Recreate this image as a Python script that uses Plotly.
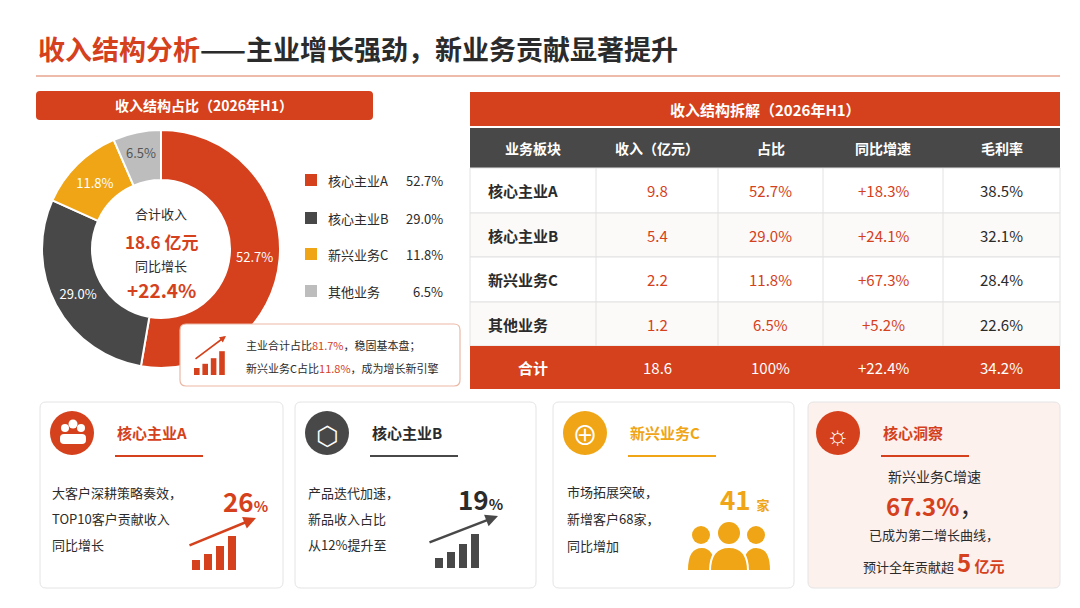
import plotly.graph_objects as go

FONT = "Noto Sans CJK SC"
RED = "#D4411C"
DARK = "#484848"
YEL = "#EFA516"
LGRAY = "#BDBDBD"
TXT = "#2b2b2b"

# ---- data ----
segments = ["核心主业A", "核心主业B", "新兴业务C", "其他业务"]
share = [52.7, 29.0, 11.8, 6.5]
seg_colors = [RED, DARK, YEL, LGRAY]
total_growth = "+22.4%"

col_headers = ["业务板块", "收入（亿元）", "占比", "同比增速", "毛利率"]
revenue = ["9.8", "5.4", "2.2", "1.2"]
share_txt = ["52.7%", "29.0%", "11.8%", "6.5%"]
yoy = ["+18.3%", "+24.1%", "+67.3%", "+5.2%"]
margin = ["38.5%", "32.1%", "28.4%", "22.6%"]
total_row = ["合计", "18.6", "100%", "+22.4%", "34.2%"]

W, H = 1080, 608
fig = go.Figure()
shapes, ann = [], []


def rrect(x0, y0, x1, y1, r=6, fill="white", line="rgba(0,0,0,0)", lw=1, layer="below"):
    p = (f"M{x0+r},{y0} L{x1-r},{y0} Q{x1},{y0} {x1},{y0+r} L{x1},{y1-r} Q{x1},{y1} {x1-r},{y1} "
         f"L{x0+r},{y1} Q{x0},{y1} {x0},{y1-r} L{x0},{y0+r} Q{x0},{y0} {x0+r},{y0} Z")
    shapes.append(dict(type="path", path=p, xref="x", yref="y", fillcolor=fill,
                       line=dict(color=line, width=lw), layer=layer))


def rect(x0, y0, x1, y1, fill, line=None, lw=0, layer="below"):
    shapes.append(dict(type="rect", x0=x0, y0=y0, x1=x1, y1=y1, xref="x", yref="y",
                       fillcolor=fill, line=dict(color=line or fill, width=lw), layer=layer))


def circ(cx, cy, r, fill, layer="above"):
    shapes.append(dict(type="circle", x0=cx-r, y0=cy-r, x1=cx+r, y1=cy+r, xref="x", yref="y",
                       fillcolor=fill, line=dict(width=0), layer=layer))


def txt(x, y, s, size=13, color=TXT, xa="left", bold=False):
    if bold:
        s = "<b>" + s + "</b>"
    ann.append(dict(x=x, y=y, xref="x", yref="y", text=s, showarrow=False, xanchor=xa,
                    yanchor="middle", font=dict(family=FONT, size=size, color=color)))


def bars(x, ybase, color, scale=1.0):
    hs = [10, 16, 24, 34]
    for i, h in enumerate(hs):
        rect(x + i*12*scale, ybase - h*scale, x + i*12*scale + 8*scale, ybase, color, layer="above")


# ---- title ----
txt(28, 40, f"<span style='color:{RED}'>收入结构分析</span>——主业增长强劲，新业务贡献显著提升", 27, TXT, bold=True)
shapes.append(dict(type="line", x0=28, x1=1052, y0=68, y1=68, xref="x", yref="y",
                   line=dict(color="#E9A58F", width=1.5)))

# ---- left panel ----
rrect(28, 83, 365, 112, 4, RED)
txt(196, 97, "收入结构占比（2026年H1）", 14, "white", "center", True)

fig.add_trace(go.Pie(
    labels=segments, values=share, hole=0.58, sort=False, direction="clockwise", rotation=0,
    marker=dict(colors=seg_colors, line=dict(color="white", width=2)),
    text=[f"{v}%" for v in share], textinfo="text", textposition="inside",
    insidetextorientation="horizontal",
    textfont=dict(family=FONT, size=13, color=["white", "white", "white", "#555"]),
    domain=dict(x=[34/W, 272/W], y=[1-360/H, 1-122/H]), showlegend=False, hoverinfo="skip"))

txt(153, 205, "合计收入", 13, TXT, "center")
txt(153, 233, "<b>18.6</b> <b>亿元</b>", 17, RED, "center")
txt(153, 257, "同比增长", 13, TXT, "center")
txt(153, 281, total_growth, 19, RED, "center", True)

leg_y = [172, 210, 246, 283]
for i, s in enumerate(segments):
    rect(297, leg_y[i]-6, 309, leg_y[i]+6, seg_colors[i], layer="above")
    txt(318, leg_y[i], s, 13)
    txt(437, leg_y[i], f"{share[i]}%", 13, TXT, "right")

rrect(172, 316, 452, 378, 6, "white", "#EBB8A6", 1.2, layer="above")
bars(186, 367, RED, 0.7)
ann.append(dict(x=218, y=328, ax=186, ay=352, xref="x", yref="y", axref="x", ayref="y",
                showarrow=True, arrowhead=2, arrowsize=0.8, arrowwidth=1.6, arrowcolor=RED, text=""))
txt(236, 337, f"主业合计占比<span style='color:{RED}'>81.7%</span>，稳固基本盘；", 11)
txt(236, 360, f"新兴业务C占比<span style='color:{RED}'>11.8%</span>，成为增长新引擎", 11)

# ---- table ----
rect(462, 84, 1052, 118, RED)
txt(757, 101, "收入结构拆解（2026年H1）", 15, "white", "center", True)
cols = [462, 588, 710, 815, 935, 1052]
rect(462, 120, 1052, 160, DARK)
for j, h in enumerate(col_headers):
    txt((cols[j]+cols[j+1])/2, 140, h, 14, "white", "center", True)
row_y = [160, 205, 249, 294, 338]
for i in range(4):
    y0, y1 = row_y[i], row_y[i+1]
    rect(462, y0, 1052, y1, "white" if i % 2 == 0 else "#FCFAF8", "#E2E2E2", 1)
    ym = (y0+y1)/2
    vals = [segments[i], revenue[i], share_txt[i], yoy[i], margin[i]]
    for j, v in enumerate(vals):
        if j == 0:
            txt(478, ym, v, 15, TXT, "left", True)
        else:
            txt((cols[j]+cols[j+1])/2, ym, v, 15, RED if j in (1, 2, 3) else TXT, "center")
for c in cols[1:-1]:
    shapes.append(dict(type="line", x0=c, x1=c, y0=160, y1=338, xref="x", yref="y",
                       line=dict(color="#E2E2E2", width=1)))
rect(462, 338, 1052, 381, RED)
for j, v in enumerate(total_row):
    txt((cols[j]+cols[j+1])/2, 359, v, 15, "white", "center", j == 0)

# ---- bottom cards ----
cards = [(32, 275, RED, "white"), (287, 528, DARK, "white"),
         (545, 786, YEL, "white"), (800, 1052, RED, "#FDF1EE")]
titles = ["核心主业A", "核心主业B", "新兴业务C", "核心洞察"]
for k, (x0, x1, col, bg) in enumerate(cards):
    rrect(x0, 394, x1, 580, 6, bg, "#E4E4E4", 1)
    cx = x0 + 32 if k < 3 else x0 + 30
    circ(cx, 425, 22, col)
    tx = x0 + 75 if k < 3 else x0 + 73
    txt(tx, 424, titles[k], 15, col if k != 1 else TXT, "left", True)
    shapes.append(dict(type="line", x0=tx, x1=tx+88, y0=448, y1=448, xref="x", yref="y",
                       line=dict(color=col, width=2)))

# icon glyphs
circ(57, 420, 4, "white"); circ(65, 416, 4.5, "white"); circ(73, 420, 4, "white")
rrect(52, 426, 78, 436, 4, "white", layer="above")
txt(319, 425, "⬡", 26, "white", "center")
txt(577, 425, "⊕", 26, "white", "center")
txt(830, 424, "☼", 26, "white", "center")

# card A
for i, s in enumerate(["大客户深耕策略奏效，", "TOP10客户贡献收入", "同比增长"]):
    txt(42, 484 + i*26, s, 13)
txt(262, 492, "26<span style='font-size:15px'>%</span>", 26, RED, "right", True)
bars(184, 562, RED, 1.0)
ann.append(dict(x=248, y=510, ax=180, ay=538, xref="x", yref="y", axref="x", ayref="y",
                showarrow=True, arrowhead=2, arrowsize=1, arrowwidth=2.5, arrowcolor=RED, text=""))
# card B
for i, s in enumerate(["产品迭代加速，", "新品收入占比", "从12%提升至"]):
    txt(298, 484 + i*26, s, 13)
txt(497, 490, "19<span style='font-size:15px'>%</span>", 26, TXT, "right", True)
bars(427, 560, DARK, 1.0)
ann.append(dict(x=490, y=508, ax=420, ay=535, xref="x", yref="y", axref="x", ayref="y",
                showarrow=True, arrowhead=2, arrowsize=1, arrowwidth=2.5, arrowcolor=DARK, text=""))
# card C
for i, s in enumerate(["市场拓展突破，", "新增客户68家，", "同比增加"]):
    txt(557, 483 + i*27, s, 13)
txt(710, 490, "41 <span style='font-size:13px'>家</span>", 26, YEL, "left", True)
for hx, hr in [(693, 9), (721, 11), (748, 9)]:
    circ(hx, 527 - (hr - 9), hr, YEL)
shapes.append(dict(type="path", path="M680,562 Q680,540 694,540 Q706,540 708,562 Z",
                   xref="x", yref="y", fillcolor=YEL, line=dict(width=0)))
shapes.append(dict(type="path", path="M734,562 Q736,540 748,540 Q762,540 762,562 Z",
                   xref="x", yref="y", fillcolor=YEL, line=dict(width=0)))
shapes.append(dict(type="path", path="M702,563 Q702,539 721,539 Q740,539 740,563 Z",
                   xref="x", yref="y", fillcolor=YEL, line=dict(color="white", width=2)))
# card D
txt(926, 468, "新兴业务C增速", 14, TXT, "center")
txt(926, 497, f"<b>67.3%</b><span style='color:{TXT}'>，</span>", 24, RED, "center")
txt(926, 526, "已成为第二增长曲线，", 13, TXT, "center")
txt(926, 553, f"预计全年贡献超 <span style='color:{RED};font-size:24px'><b>5</b></span>"
              f"<span style='color:{RED};font-size:15px'><b> 亿元</b></span>", 13, TXT, "center")

fig.update_layout(
    width=W, height=H, margin=dict(l=0, r=0, t=0, b=0),
    paper_bgcolor="white", plot_bgcolor="white",
    xaxis=dict(range=[0, W], visible=False, fixedrange=True),
    yaxis=dict(range=[H, 0], visible=False, fixedrange=True),
    shapes=shapes, annotations=ann, showlegend=False,
)
fig.write_html("out.html")
